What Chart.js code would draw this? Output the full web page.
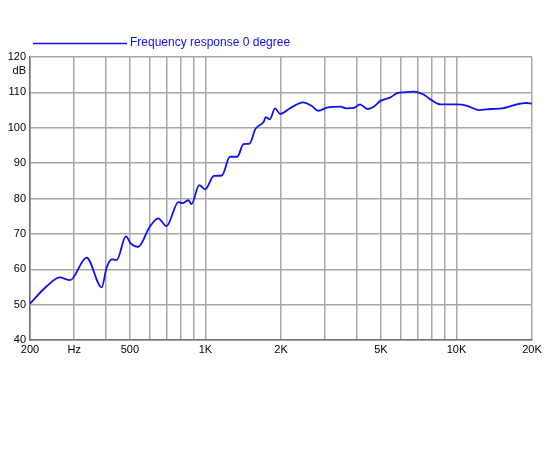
<!DOCTYPE html>
<html>
<head>
<meta charset="utf-8">
<script src="https://cdn.jsdelivr.net/npm/chart.js@4"></script>
<style>
  html, body { margin: 0; padding: 0; background: #fff; }
</style>
</head>
<body>
<canvas id="c" width="550" height="450"></canvas>
<script>
// ── Data ──
const FREQS = [200, 233, 263, 289, 336, 386, 404, 424, 443, 482, 504, 539, 600, 648, 700, 780, 810, 855, 880,
  944, 997, 1081, 1162, 1252, 1340, 1417, 1498, 1580, 1707, 1740, 1806, 1893, 1984, 2172, 2450, 2647, 2815,
  3050, 3454, 3620, 3904, 4130, 4420, 4700, 4980, 5460, 5810, 6160, 6770, 7400, 7880, 8650, 10050, 11030,
  12270, 13680, 15250, 17000, 18940, 20000];
const SPL = [50.3, 55.2, 57.7, 56.9, 63.3, 54.9, 60.5, 62.8, 62.6, 69.3, 67.3, 66.3, 72, 74.4, 72.2, 79, 78.7, 79.5, 78.4,
  83.8, 82.6, 86.4, 86.5, 91.8, 91.8, 95.4, 95.5, 99.6, 101.7, 103, 102.4, 105.5, 103.9, 105.5, 107.2, 106.2, 104.8,
  105.7, 106, 105.5, 105.6, 106.6, 105.3, 106, 107.6, 108.6, 109.8, 110, 110.2, 109.4, 108, 106.6, 106.6, 106.2,
  105, 105.3, 105.5, 106.4, 107, 106.8];
const GRID_FREQS = [200, 300, 400, 500, 600, 700, 800, 900, 1000, 2000, 3000, 4000, 5000, 6000, 7000, 8000, 9000,
  10000, 20000];
const X_LABELS = { 200: '200', 300: 'Hz', 500: '500', 1000: '1K', 2000: '2K', 5000: '5K', 10000: '10K', 20000: '20K' };
const SERIES_LABEL = 'Frequency response 0 degree';

const BLUE = '#1010F0';
const GRID = '#A8A8A8';

const overlay = {
  id: 'overlay',
  afterDraw(chart) {
    const c = chart.ctx;
    const y = chart.scales.y;
    c.save();
    // legend line + text
    c.strokeStyle = BLUE;
    c.lineWidth = 1.6;
    c.beginPath();
    c.moveTo(33, 43.5);
    c.lineTo(127, 43.5);
    c.stroke();
    c.fillStyle = BLUE;
    c.font = '12px "Liberation Sans", Arial, sans-serif';
    c.textBaseline = 'middle';
    c.fillText(SERIES_LABEL, 130, 43);
    // dB unit under top tick
    c.fillStyle = '#000';
    c.font = '11px "Liberation Sans", Arial, sans-serif';
    c.textAlign = 'right';
    c.fillText('dB', 26, y.getPixelForValue(116));
    c.restore();
  }
};

new Chart(document.getElementById('c'), {
  type: 'line',
  data: {
    labels: FREQS,
    datasets: [{
      label: SERIES_LABEL,
      data: FREQS.map((f, i) => ({ x: f, y: SPL[i] })),
      borderColor: BLUE,
      borderWidth: 1.8,
      pointRadius: 0,
      cubicInterpolationMode: 'monotone',
      fill: false
    }]
  },
  options: {
    responsive: false,
    animation: false,
    layout: { padding: { top: 57, right: 18, bottom: 90, left: 0 } },
    plugins: { legend: { display: false }, tooltip: { enabled: false } },
    scales: {
      x: {
        type: 'logarithmic',
        min: 200,
        max: 20000,
        afterBuildTicks: (axis) => { axis.ticks = GRID_FREQS.map(v => ({ value: v })); },
        afterFit: (axis) => { axis.height = 20; },
        ticks: {
          autoSkip: false,
          maxRotation: 0,
          color: '#000',
          padding: 3,
          font: { family: '"Liberation Sans", Arial, sans-serif', size: 11 },
          callback: (v) => X_LABELS[v] || ''
        },
        grid: { color: GRID, lineWidth: 1.5, drawTicks: false },
        border: { color: '#707070', width: 1.5 }
      },
      y: {
        min: 40,
        max: 120,
        afterFit: (axis) => { axis.width = 30; },
        ticks: {
          stepSize: 10,
          color: '#000',
          padding: 4,
          font: { family: '"Liberation Sans", Arial, sans-serif', size: 11 }
        },
        grid: { color: GRID, lineWidth: 1.5, drawTicks: false },
        border: { color: '#707070', width: 1.5 }
      }
    }
  },
  plugins: [overlay]
});
</script>
</body>
</html>
